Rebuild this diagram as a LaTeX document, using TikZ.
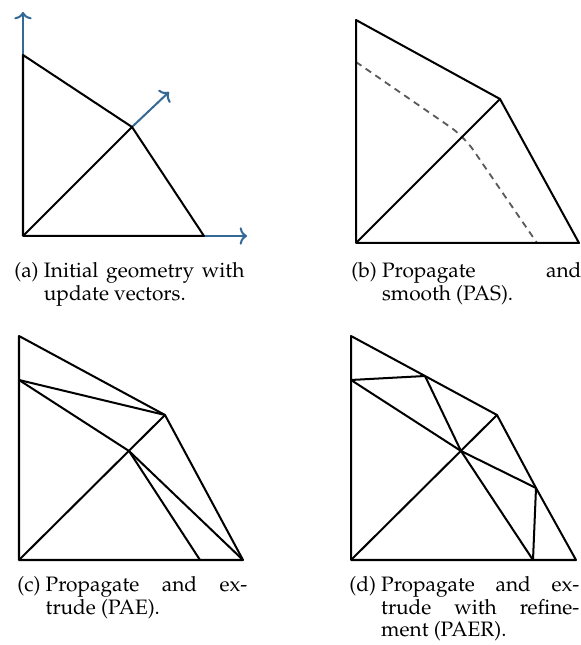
\documentclass[tikz,border=0pt]{standalone}
\usepackage[T1]{fontenc}
\usepackage{mathpazo}
\usepackage{tikz}
\usetikzlibrary{arrows.meta}

\definecolor{vecblue}{RGB}{52,104,150}
\definecolor{smoothgray}{RGB}{90,90,90}

% sub-figure caption with hanging label
\newcommand{\subcap}[2]{\setbox0\hbox{(#1)\ }\noindent\hangindent=\wd0\hangafter=1\box0 #2\par}

\begin{document}
\begin{tikzpicture}[
        x=0.5464pt, y=0.5464pt,
        edge/.style={line width=1.1pt, line join=round},
        update/.style={-{To[length=4pt, width=9.5pt]}, line width=1.1pt, vecblue},
        smoothed/.style={smoothgray, line width=1pt, dash pattern=on 3.6pt off 2.8pt, rounded corners=9pt},
        subcaption/.style={anchor=north west, text width=125.7pt, align=justify, inner sep=0pt, font=\fontsize{11.4}{12.4}\selectfont}
    ]
        \useasboundingbox (0,0) rectangle (581,645);

        % (a) initial geometry
        \coordinate (a-o) at (23,409);
        \coordinate (a-t) at (23,590);
        \coordinate (a-m) at (132,518);
        \coordinate (a-r) at (204,409);
        \coordinate (a-vt) at (23,633);
        \coordinate (a-vm) at (169,553);
        \coordinate (a-vr) at (247,409);

        \draw[update] (a-t) -- (a-vt);
        \draw[update] (a-m) -- (a-vm);
        \draw[update] (a-r) -- (a-vr);
        \draw[edge] (a-o) -- (a-t) -- (a-m) -- (a-r) -- cycle;
        \draw[edge] (a-o) -- (a-m);

        \node[subcaption] (cap-a) at (14,383) {\subcap{a}{Initial geometry with\linebreak update vectors.}};

        % (b) propagate and smooth
        \coordinate (b-o) at (356,402);
        \coordinate (b-t) at (356,625);
        \coordinate (b-m) at (500,546);
        \coordinate (b-r) at (579,402);
        \coordinate (b-s1) at (356,583);
        \coordinate (b-k) at (464,508.5);
        \coordinate (b-s2) at (537,402);

        \draw[smoothed] (b-s1) -- (b-k) -- (b-s2);
        \draw[edge] (b-o) -- (b-t) -- (b-m) -- (b-r) -- cycle;
        \draw[edge] (b-o) -- (b-m);

        \node[subcaption] (cap-b) at (351,383) {\subcap{b}{Propagate and\linebreak smooth (PAS).}};

        % (c) propagate and extrude
        \coordinate (c-o) at (19,85);
        \coordinate (c-t) at (19,309);
        \coordinate (c-m) at (165,230);
        \coordinate (c-r) at (243,85);
        \coordinate (c-l) at (19,265);
        \coordinate (c-i) at (129,194);
        \coordinate (c-b) at (200,85);

        \draw[edge] (c-o) -- (c-t) -- (c-m) -- (c-r) -- cycle;
        \draw[edge] (c-o) -- (c-m);
        \draw[edge] (c-l) -- (c-m);
        \draw[edge] (c-l) -- (c-i) -- (c-r);
        \draw[edge] (c-i) -- (c-b);

        \node[subcaption] (cap-c) at (17,69) {\subcap{c}{Propagate and ex-\linebreak trude (PAE).}};

        % (d) propagate and extrude with refinement
        \coordinate (d-o) at (351,85);
        \coordinate (d-t) at (351,309);
        \coordinate (d-l) at (351,265);
        \coordinate (d-e) at (425,269);
        \coordinate (d-m) at (497,230);
        \coordinate (d-s) at (536,157);
        \coordinate (d-r) at (576,85);
        \coordinate (d-b) at (533,85);
        \coordinate (d-i) at (461,194);

        \draw[edge] (d-o) -- (d-t) -- (d-e) -- (d-m) -- (d-s) -- (d-r) -- cycle;
        \draw[edge] (d-o) -- (d-m);
        \draw[edge] (d-l) -- (d-e);
        \draw[edge] (d-l) -- (d-i) -- (d-s);
        \draw[edge] (d-e) -- (d-i) -- (d-b);
        \draw[edge] (d-s) -- (d-b);

        \node[subcaption] (cap-d) at (349,69) {\subcap{d}{Propagate and ex-\linebreak trude with refine-\linebreak ment (PAER).}};
    \end{tikzpicture}
\end{document}
